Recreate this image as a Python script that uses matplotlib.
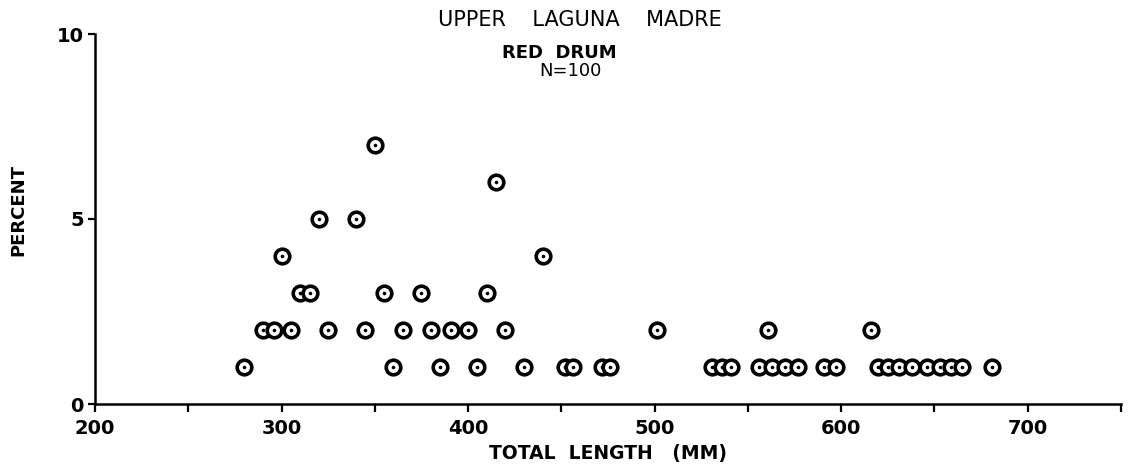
import matplotlib
matplotlib.use("Agg")
import matplotlib.pyplot as plt
from matplotlib.ticker import MultipleLocator

# Total length (mm) of each length class and its percent frequency
lengths_7 = [350]
lengths_6 = [415]
lengths_5 = [320, 340]
lengths_4 = [300, 440]
lengths_3 = [310, 315, 355, 375, 410]
lengths_2 = [290, 296, 305, 325, 345, 365, 380, 391, 400, 420, 501, 561, 616]
lengths_1 = [280, 360, 385, 405, 430, 452, 456, 472, 476, 531, 536, 541,
             556, 563, 570, 577, 591, 597, 620, 625, 631, 638, 646, 653,
             659, 665, 681]

groups = [(7, lengths_7), (6, lengths_6), (5, lengths_5), (4, lengths_4),
          (3, lengths_3), (2, lengths_2), (1, lengths_1)]

xs, ys = [], []
for pct, lst in groups:
    xs.extend(lst)
    ys.extend([pct] * len(lst))

x_ticks = [200, 300, 400, 500, 600, 700]
y_ticks = [0, 5, 10]

plt.rcParams['font.family'] = ['DejaVu Sans']

W, H = 1130, 476
fig = plt.figure(figsize=(W / 100, H / 100), dpi=100)
left_px, right_px, top_px, bottom_px = 95, 1121, 34, 404
ax = fig.add_axes([left_px / W, (H - bottom_px) / H,
                   (right_px - left_px) / W, (bottom_px - top_px) / H])

ax.plot(xs, ys, linestyle='none', marker='o', markersize=10.5,
        markerfacecolor='white', markeredgecolor='black', markeredgewidth=2.6,
        zorder=3)
ax.plot(xs, ys, linestyle='none', marker='o', markersize=2.6,
        markerfacecolor='black', markeredgecolor='black', markeredgewidth=0,
        zorder=4)

ax.set_xlim(200, 750)
ax.set_ylim(0, 10)
ax.set_xticks(x_ticks)
ax.set_xticklabels([str(t) for t in x_ticks])
ax.xaxis.set_minor_locator(MultipleLocator(50))
ax.set_yticks(y_ticks)
ax.set_yticklabels([str(t) for t in y_ticks])

for side in ['top', 'right']:
    ax.spines[side].set_visible(False)
for side in ['left', 'bottom']:
    ax.spines[side].set_linewidth(1.8)
    ax.spines[side].set_color('black')

ax.tick_params(axis='x', which='major', direction='out', length=6, width=1.6,
               labelsize=14, pad=5)
ax.tick_params(axis='x', which='minor', direction='out', length=6, width=1.6)
ax.tick_params(axis='y', which='major', direction='out', length=5, width=1.6,
               labelsize=14, pad=3)
for lbl in ax.get_xticklabels() + ax.get_yticklabels():
    lbl.set_fontweight('bold')

ax.set_xlabel('TOTAL  LENGTH   (MM)', fontsize=13.5, fontweight='bold',
              labelpad=4)
fig.text(18 / W, 1 - 210 / H, 'PERCENT', rotation=90, fontsize=13,
         fontweight='bold', ha='center', va='center')

fig.text(580 / W, 1 - 20 / H, 'UPPER    LAGUNA    MADRE', fontsize=15,
         ha='center', va='center')
fig.text(559 / W, 1 - 53 / H, 'RED  DRUM', fontsize=13, fontweight='bold',
         ha='center', va='center')
fig.text(570 / W, 1 - 71 / H, 'N=100', fontsize=13,
         ha='center', va='center')

fig.savefig('out.png', dpi=100)
